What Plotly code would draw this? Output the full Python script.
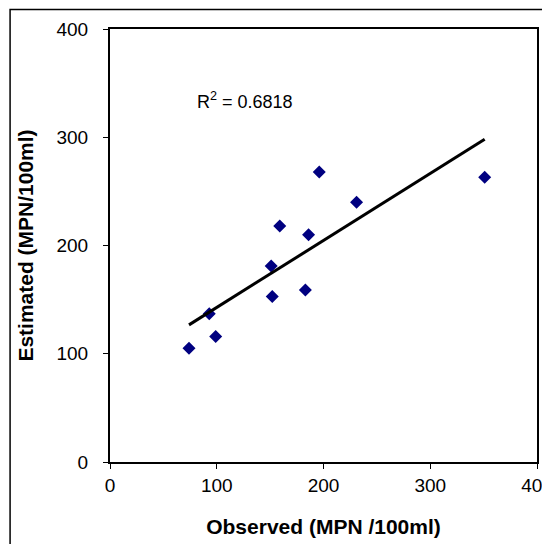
import numpy as np
import plotly.graph_objects as go

observed = [74, 93, 99, 151, 152, 159, 183, 186, 196, 231, 351]
estimated = [105, 137, 116, 181, 153, 218, 159, 210, 268, 240, 263]
x_ticks = [0, 100, 200, 300, 400]
y_ticks = [0, 100, 200, 300, 400]
r2_label = "R<sup>2</sup> = 0.6818"

slope, intercept = np.polyfit(observed, estimated, 1)
line_x = [min(observed), max(observed)]
line_y = [slope * v + intercept for v in line_x]

font = "Liberation Sans, Arial, sans-serif"

fig = go.Figure()
fig.add_trace(go.Scatter(x=observed, y=estimated, mode="markers",
                         marker=dict(symbol="diamond", size=10, color="#000080"),
                         showlegend=False))
fig.add_trace(go.Scatter(x=line_x, y=line_y, mode="lines",
                         line=dict(color="black", width=3), showlegend=False))

fig.add_annotation(x=80, y=334, xanchor="left", yanchor="middle", text=r2_label,
                   showarrow=False, font=dict(family=font, size=18, color="black"))

fig.add_shape(type="rect", xref="paper", yref="paper", x0=-0.234, x1=1.2, y0=-0.4, y1=1.045,
              line=dict(color="black", width=1.5), fillcolor="rgba(0,0,0,0)", layer="below")

fig.update_layout(
    width=542, height=536,
    margin=dict(l=102, r=13, t=21, b=82, autoexpand=False),
    paper_bgcolor="white", plot_bgcolor="white",
    font=dict(family=font, size=19, color="black"),
    xaxis=dict(range=[0, 400], tickvals=x_ticks, showgrid=False, zeroline=False,
               showline=True, linecolor="black", linewidth=2, mirror=True,
               ticks="outside", ticklen=5, tickcolor="black", automargin=False,
               ticklabelstandoff=0, ticklabeloverflow="allow",
               tickfont=dict(family=font, size=19),
               title=dict(text="<b>Observed (MPN /100ml)</b>", standoff=25,
                          font=dict(family=font, size=21))),
    yaxis=dict(range=[0, 400], tickvals=y_ticks, showgrid=False, zeroline=False,
               showline=True, linecolor="black", linewidth=2, mirror=True,
               ticks="outside", ticklen=5, tickcolor="black", automargin=False,
               ticklabelstandoff=11, ticklabeloverflow="allow",
               tickfont=dict(family=font, size=19),
               title=dict(text="<b>Estimated (MPN/100ml)</b>", standoff=17,
                          font=dict(family=font, size=21))),
)

fig.write_html("out.html")
